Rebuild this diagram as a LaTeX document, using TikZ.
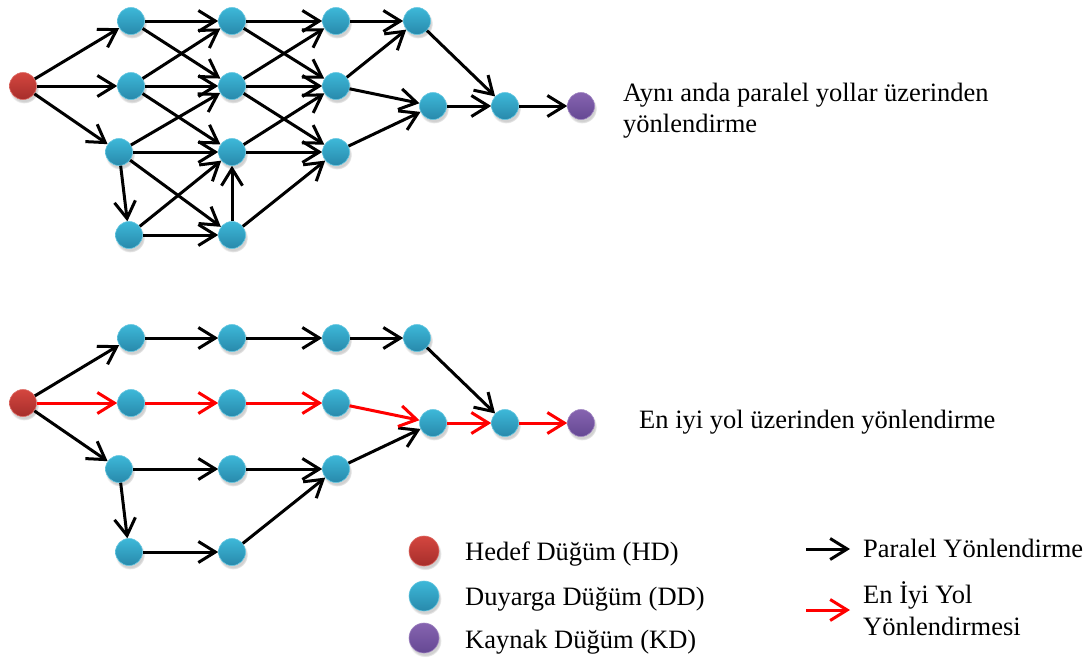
\documentclass[tikz,border=0pt]{standalone}
\usepackage{fontspec}
\setmainfont{Liberation Serif}
\usetikzlibrary{arrows.meta,shadows}
\definecolor{ddT}{HTML}{3DB8D8}
\definecolor{ddB}{HTML}{2889AB}
\definecolor{hdT}{HTML}{D4463F}
\definecolor{hdB}{HTML}{A62E2B}
\definecolor{kdT}{HTML}{8664B0}
\definecolor{kdB}{HTML}{654893}
\tikzset{
  x=1pt,y=1pt,
  nodebase/.style={circle,minimum size=#1,inner sep=0pt,line width=0.6pt,
    circular drop shadow={shadow xshift=1pt,shadow yshift=-2.5pt,opacity=0.3,fill=black!60}},
  dd/.style={nodebase=27pt,top color=ddT,bottom color=ddB,draw=ddT!80!white},
  hd/.style={nodebase=27pt,top color=hdT,bottom color=hdB,draw=hdT!80!white},
  kd/.style={nodebase=27pt,top color=kdT,bottom color=kdB,draw=kdT!80!white},
  par/.style={-{Straight Barb[length=17pt,width=21pt]},line width=3pt,black},
  best/.style={par,draw=red},
  lbl/.style={font=\fontsize{26.5}{31}\selectfont,inner sep=0pt,anchor=base west}
}
\begin{document}
\begin{tikzpicture}
\useasboundingbox (0,0) rectangle (1088,-657);
% ---------- top graph ----------
\node[hd] (r)  at (23,-86) {};
\node[dd] (a1) at (131,-21) {};
\node[dd] (a2) at (131,-86) {};
\node[dd] (a3) at (119,-152) {};
\node[dd] (a4) at (129,-235) {};
\node[dd] (b1) at (232,-21) {};
\node[dd] (b2) at (232,-86) {};
\node[dd] (b3) at (232,-152) {};
\node[dd] (b4) at (232,-235) {};
\node[dd] (c1) at (336,-21) {};
\node[dd] (c2) at (336,-86) {};
\node[dd] (c3) at (336,-152) {};
\node[dd] (d1) at (417,-21) {};
\node[dd] (d2) at (433,-106) {};
\node[dd] (e)  at (505,-106) {};
\node[kd] (k)  at (581,-106) {};
\foreach \s/\t in {r/a1,r/a2,r/a3,a1/b1,a1/b2,a2/b1,a2/b2,a2/b3,a3/b2,a3/b3,a3/b4,a3/a4,
  a4/b3,a4/b4,b4/b3,b1/c1,b1/c2,b2/c1,b2/c2,b2/c3,b3/c2,b3/c3,b4/c3,c1/d1,c2/d1,c2/d2,
  c3/d2,d1/e,d2/e,e/k}
  \draw[par] (\s) -- (\t);
\node[lbl] (t1) at (623,-101) {Aynı anda paralel yollar üzerinden};
\node[lbl] (t2) at (623,-132) {yönlendirme};
% ---------- bottom graph ----------
\node[hd] (R)  at (23,-403) {};
\node[dd] (A1) at (131,-338) {};
\node[dd] (A2) at (131,-403) {};
\node[dd] (A3) at (119,-469) {};
\node[dd] (A4) at (129,-552) {};
\node[dd] (B1) at (232,-338) {};
\node[dd] (B2) at (232,-403) {};
\node[dd] (B3) at (232,-469) {};
\node[dd] (B4) at (232,-552) {};
\node[dd] (C1) at (336,-338) {};
\node[dd] (C2) at (336,-403) {};
\node[dd] (C3) at (336,-469) {};
\node[dd] (D1) at (417,-338) {};
\node[dd] (D2) at (433,-423) {};
\node[dd] (E)  at (505,-423) {};
\node[kd] (K)  at (581,-423) {};
\foreach \s/\t in {R/A1,R/A3,A1/B1,B1/C1,C1/D1,D1/E,A3/B3,B3/C3,A3/A4,A4/B4,B4/C3,C3/D2}
  \draw[par] (\s) -- (\t);
\foreach \s/\t in {R/A2,A2/B2,B2/C2,C2/D2,D2/E,E/K}
  \draw[best] (\s) -- (\t);
\node[lbl] (t3) at (639,-428) {En iyi yol üzerinden yönlendirme};
% ---------- legend ----------
\node[hd,minimum size=30pt] (lh) at (424,-551) {};
\node[dd,minimum size=30pt] (ld) at (424,-596) {};
\node[kd,minimum size=30pt] (lk) at (424,-638) {};
\node[lbl] (th) at (465,-560) {Hedef Düğüm (HD)};
\node[lbl] (td) at (465,-605) {Duyarga Düğüm (DD)};
\node[lbl] (tk) at (465,-648) {Kaynak Düğüm (KD)};
\coordinate (pa1) at (806,-549);
\coordinate (pa2) at (850,-549);
\draw[par] (pa1) -- (pa2);
\node[lbl] (tp) at (863,-557) {Paralel Yönlendirme};
\coordinate (ba1) at (806,-610);
\coordinate (ba2) at (850,-610);
\draw[best] (ba1) -- (ba2);
\node[lbl] (tb1) at (863,-603) {En İyi Yol};
\node[lbl] (tb2) at (863,-635) {Yönlendirmesi};
\end{tikzpicture}
\end{document}
